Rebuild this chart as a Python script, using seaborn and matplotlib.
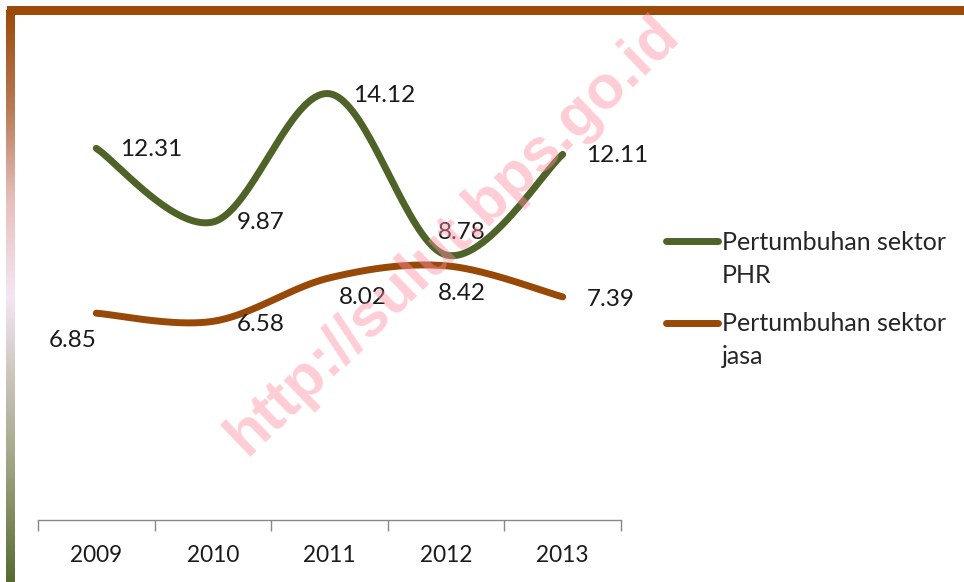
import numpy as np
import pandas as pd
import matplotlib
matplotlib.use('Agg')
import matplotlib.pyplot as plt
import seaborn as sns

years = ['2009', '2010', '2011', '2012', '2013']
phr = [12.31, 9.87, 14.12, 8.78, 12.11]
jasa = [6.85, 6.58, 8.02, 8.42, 7.39]
names = ['Pertumbuhan sektor\nPHR', 'Pertumbuhan sektor\njasa']
colors = ['#4F6228', '#984807']

# label offsets (points) and alignment, mimicking excel label placement
phr_off = [(17, -1), (17, 0), (17, -1), (11, 16), (17, -1)]
phr_ha = ['left', 'left', 'left', 'center', 'left']
jasa_off = [(-17, -20), (17, -2), (7, -14), (11, -20), (17, -2)]
jasa_ha = ['center', 'left', 'left', 'center', 'left']


def smooth(y, n=40):
    # excel-like bezier smoothing through the points
    x = np.arange(len(y), dtype=float)
    y = np.asarray(y, dtype=float)
    px = np.concatenate([[x[0]], x, [x[-1]]])
    py = np.concatenate([[y[0]], y, [y[-1]]])
    xs, ys = [], []
    t = np.linspace(0, 1, n)
    for i in range(len(y) - 1):
        p0 = np.array([px[i + 1], py[i + 1]])
        p3 = np.array([px[i + 2], py[i + 2]])
        c1 = p0 + (np.array([px[i + 2], py[i + 2]]) - np.array([px[i], py[i]])) / 6
        c2 = p3 - (np.array([px[i + 3], py[i + 3]]) - np.array([px[i + 1], py[i + 1]])) / 6
        b = ((1 - t) ** 3)[:, None] * p0 + (3 * (1 - t) ** 2 * t)[:, None] * c1 \
            + (3 * (1 - t) * t ** 2)[:, None] * c2 + (t ** 3)[:, None] * p3
        xs.extend(b[:, 0])
        ys.extend(b[:, 1])
    return xs, ys


rows = []
for name, vals in zip(names, [phr, jasa]):
    xs, ys = smooth(vals)
    rows.append(pd.DataFrame({'x': xs, 'y': ys, 'seri': name}))
df = pd.concat(rows, ignore_index=True)

sns.set_style('white')
plt.rcParams['font.family'] = ['Lato', 'DejaVu Sans']

fig = plt.figure(figsize=(9.64, 5.82), dpi=100)
ax = fig.add_axes([38 / 964, 62 / 582, (621 - 38) / 964, (520 - 46) / 582])

sns.lineplot(data=df, x='x', y='y', hue='seri', palette=colors, sort=False,
             linewidth=5, ax=ax, estimator=None, solid_capstyle='round')

for vals, offs, has in zip([phr, jasa], [phr_off, jasa_off], [phr_ha, jasa_ha]):
    for i, v in enumerate(vals):
        ax.annotate(f'{v:.2f}', (i, v), xytext=offs[i], textcoords='offset points',
                    ha=has[i], va='center', fontsize=17.5, color='#1a1a1a')

ax.set_xlim(-0.5, 4.5)
ax.set_ylim(0, 15.7)
ax.set_xticks(np.arange(-0.5, 5, 1))
ax.set_xticklabels([])
ax.set_xticks(range(5), minor=True)
ax.set_xticklabels(years, minor=True, fontsize=16.3, color='#1a1a1a')
ax.tick_params(axis='x', which='major', bottom=True, length=8, width=1,
               color='#888888', direction='out')
ax.tick_params(axis='x', which='minor', bottom=True, length=0, pad=18)
ax.set_yticks([])
ax.set_xlabel('')
ax.set_ylabel('')
for s in ['top', 'right', 'left']:
    ax.spines[s].set_visible(False)
ax.spines['bottom'].set_color('#888888')
ax.spines['bottom'].set_linewidth(1)

leg = ax.legend(loc='upper left', bbox_to_anchor=(643 / 964, 1 - 208 / 582),
                bbox_transform=fig.transFigure, frameon=False, fontsize=18,
                handlelength=2.1, handletextpad=0.15, labelspacing=1.0)
for t in leg.get_texts():
    t.set_linespacing(1.55)
for h in leg.get_lines():
    h.set_linewidth(5)
    h.set_solid_capstyle('round')
    h.set_ydata(np.array(h.get_ydata()) + 13)

# frame: top bar and gradient bar on the left
fax = fig.add_axes([0, 0, 1, 1], zorder=-1)
fax.set_xlim(0, 964)
fax.set_ylim(582, 0)
fax.axis('off')
fax.add_patch(plt.Rectangle((7, 6), 957, 9, color='#9C4A0A', lw=0))
grad = matplotlib.colors.LinearSegmentedColormap.from_list('g', [
    (0.0, '#9C4A0A'), (0.17, '#B87A55'), (0.33, '#E6BFBC'), (0.5, '#F5E6F5'),
    (0.65, '#C9C3B9'), (0.8, '#A0A382'), (1.0, '#576B30')])
fax.imshow(np.linspace(0, 1, 256)[:, None], cmap=grad, aspect='auto',
           extent=(6, 15, 582, 10))

# watermark
fig.text(0.47, 0.595, 'http://sulut.bps.go.id', fontsize=44, fontweight='bold',
         color='#FF8FA3', alpha=0.45, rotation=44, ha='center', va='center',
         family='Liberation Sans', zorder=10)

plt.savefig('out.png', dpi=100)
